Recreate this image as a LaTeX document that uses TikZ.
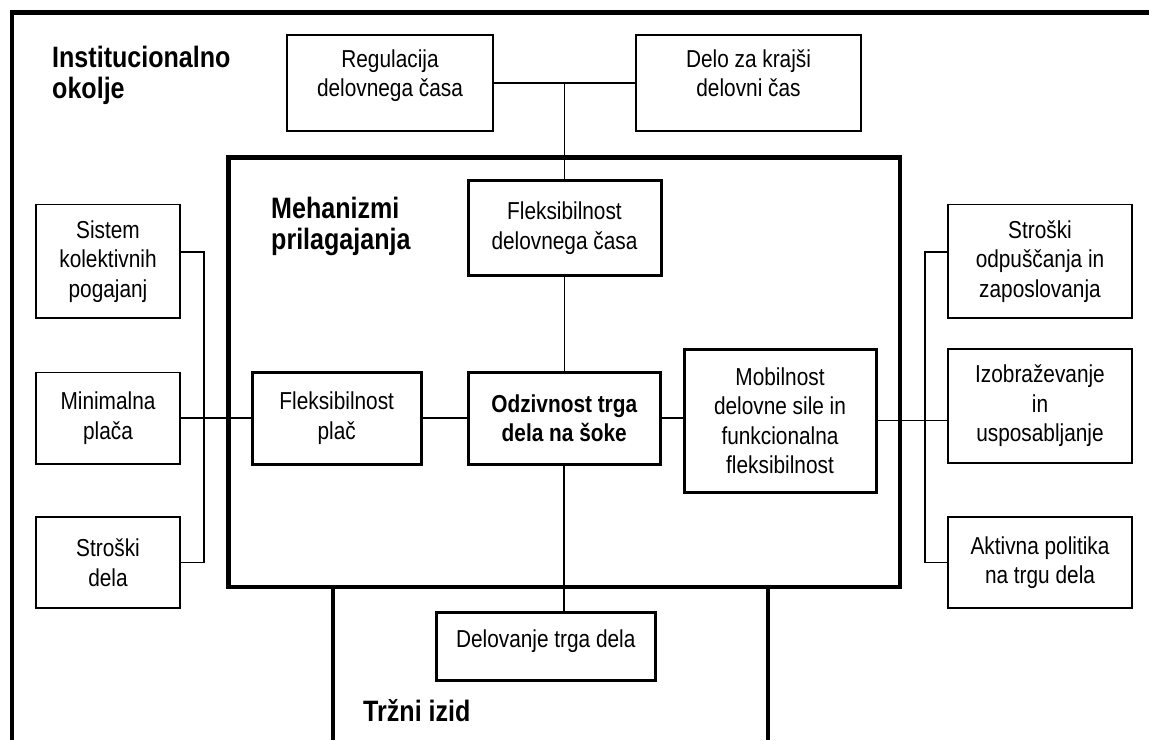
\documentclass[tikz,border=0pt]{standalone}
\usepackage{fontspec}
\setmainfont{Liberation Sans}
\newfontfamily\narrowfont{Liberation Sans}[FakeStretch=0.85]
\begin{document}
\begin{tikzpicture}[x=1pt,y=-1pt,
  box/.style={draw, line width=1.8pt, inner sep=0pt, align=center,
    font=\narrowfont\fontsize{24.5}{29.5}\selectfont},
  tbox/.style={box, line width=3pt},
  conn/.style={line width=1.6pt},
  frame/.style={line width=4.2pt},
  head/.style={inner sep=0pt, align=left, anchor=north west,
    font=\narrowfont\bfseries\fontsize{29.5}{31}\selectfont}]
\useasboundingbox (0,0) rectangle (1149,740);
\fill[white] (0,0) rectangle (1149,740);
% frames
\draw[frame] (12,740) -- (12,12.5) -- (1149,12.5);
\draw[frame] (228.5,157.5) rectangle (900,587);
\draw[frame] (333,740) -- (333,587);
\draw[frame] (768,587) -- (768,740);
% headers
\node[head] (hinst) at (52,46) {Institucionalno\\okolje};
\node[head] (hmech) at (271,197) {Mehanizmi\\prilagajanja};
\node[head, anchor=base west] (hmkt) at (363,721) {Tržni izid};
% top boxes
\node[box, minimum width=206pt, minimum height=96pt, text depth=20pt] (reg) at (390,83) {Regulacija\\delovnega časa};
\node[box, minimum width=225pt, minimum height=96pt, text depth=20pt] (delo) at (748.5,83) {Delo za krajši\\delovni čas};
% inner boxes
\node[tbox, minimum width=193pt, minimum height=94.5pt] (fdc) at (564.5,228) {Fleksibilnost\\delovnega časa};
\node[tbox, minimum width=168.5pt, minimum height=91.5pt] (fp) at (336.75,418.25) {Fleksibilnost\\plač};
\node[tbox, minimum width=192.5pt, minimum height=91.5pt, font=\narrowfont\bfseries\fontsize{24.5}{29.5}\selectfont] (odz) at (564.25,418.25) {Odzivnost trga\\dela na šoke};
\node[tbox, minimum width=192pt, minimum height=143pt] (mob) at (780,420.5) {Mobilnost\\delovne sile in\\funkcionalna\\fleksibilnost};
\node[tbox, minimum width=219.5pt, minimum height=68.5pt, text depth=16pt] (dtd) at (545.75,646.25) {Delovanje trga dela};
% left boxes
\node[box, minimum width=144pt, minimum height=113.5pt] (sis) at (108,261.25) {Sistem\\kolektivnih\\pogajanj};
\node[box, minimum width=144pt, minimum height=91.5pt] (minp) at (108,418.25) {Minimalna\\plača};
\node[box, minimum width=144pt, minimum height=91pt] (sdel) at (108,562.5) {Stroški\\dela};
% right boxes
\node[box, minimum width=184pt, minimum height=113.5pt] (sodp) at (1040,261.25) {Stroški\\odpuščanja in\\zaposlovanja};
\node[box, minimum width=184pt, minimum height=114pt] (izo) at (1040,406) {Izobraževanje\\in\\usposabljanje};
\node[box, minimum width=184pt, minimum height=91pt] (akt) at (1040,562.5) {Aktivna politika\\na trgu dela};
% bus coordinates
\coordinate (lbt) at (204,252);
\coordinate (rbt) at (925,252);
% connectors
\draw[conn] (reg.east) -- (delo.west);
\draw[conn] (fdc.north) -- (fdc.north |- reg.east);
\draw[conn] (fdc.south) -- (fdc.south |- odz.north);
\draw[conn] (odz.west) -- (fp.east);
\draw[conn] (odz.east) -- (odz.east -| mob.west);
\draw[conn] (fp.west) -- (minp.east);
\draw[conn] (odz.south) -- (odz.south |- dtd.north);
\draw[conn] (sis.east |- lbt) -- (lbt) -- (lbt |- sdel.east) -- (sdel.east);
\draw[conn] (sodp.west |- rbt) -- (rbt) -- (rbt |- akt.west) -- (akt.west);
\draw[conn] (mob.east) -- (mob.east -| izo.west);
\end{tikzpicture}
\end{document}
